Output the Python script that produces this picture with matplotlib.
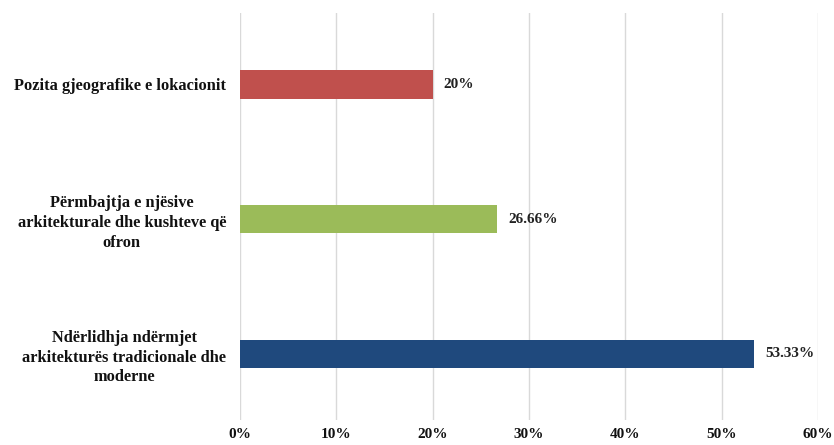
import matplotlib.pyplot as plt
import matplotlib

matplotlib.rcParams['font.family'] = 'Liberation Serif'
matplotlib.rcParams['font.weight'] = 'bold'

categories = ['Ndërlidhja ndërmjet\narkitekturës tradicionale dhe\nmoderne',
              'Përmbajtja e njësive\narkitekturale dhe kushteve që\nofron',
              'Pozita gjeografike e lokacionit']
values = [53.33, 26.66, 20]
value_labels = ['53.33%', '26.66%', '20%']
colors = ['#1F497D', '#9BBB59', '#C0504D']
xticks = [0, 10, 20, 30, 40, 50, 60]

fig = plt.figure(figsize=(8.34, 4.45), dpi=100)
ax = fig.add_axes([0.2878, 0.0562, 0.6930, 0.9146])

ypos = list(range(len(categories)))
ax.barh(ypos, values, height=0.21, color=colors, zorder=3)

for y, v, lab in zip(ypos, values, value_labels):
    ax.annotate(lab, (v, y), xytext=(8, 0), textcoords='offset points',
                va='center', ha='left', fontsize=11, fontweight='bold', color='#222222')

ax.set_xlim(0, 60)
ax.set_ylim(-0.49, 2.53)
ax.set_xticks(xticks)
ax.set_xticklabels([f'{t}%' for t in xticks], fontsize=11, fontweight='bold')
ax.set_yticks(ypos)
ax.set_yticklabels(categories, fontsize=11.8, fontweight='bold', multialignment='center', linespacing=1.3)

ax.grid(axis='x', color='#D9D9D9', linewidth=1, zorder=0)
for s in ax.spines.values():
    s.set_visible(False)
ax.tick_params(axis='both', length=0, colors='#111111')
ax.tick_params(axis='x', pad=6)
ax.tick_params(axis='y', pad=10)

fig.savefig('out.png', dpi=100)
